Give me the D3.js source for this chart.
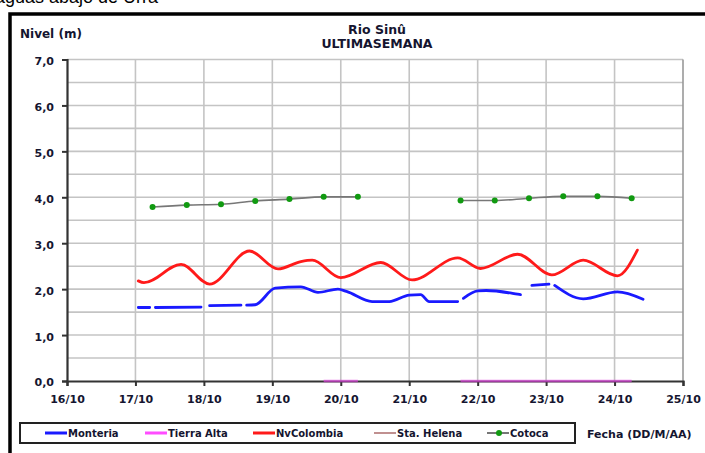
<!DOCTYPE html>
<html><head><meta charset="utf-8">
<script src="https://cdn.jsdelivr.net/npm/d3@7/dist/d3.min.js"></script>
<style>body{margin:0;background:#fff}svg{display:block}text{font-family:"DejaVu Sans",sans-serif;font-weight:bold;fill:#151530}</style>
</head><body>
<script>
// ---- data ----
const xTickLabels = ["16/10","17/10","18/10","19/10","20/10","21/10","22/10","23/10","24/10","25/10"];
const yTicks = [0,1,2,3,4,5,6,7];
const yGrid = [0.5,1,1.5,2,2.5,3,3.5,4,4.5,5,5.5,6,6.5,7];

const monteriaTimes = ["17/10 01:00","17/10 05:00","17/10 06:00","17/10 07:00","17/10 23:00","18/10 00:00","18/10 02:00","18/10 13:00","18/10 14:00","18/10 15:00","18/10 18:00","19/10 01:00","19/10 10:00","19/10 16:00","19/10 23:00","20/10 02:00","20/10 11:00","20/10 17:00","21/10 00:00","21/10 04:00","21/10 07:00","21/10 17:00","21/10 18:00","21/10 19:00","22/10 00:00","22/10 03:00","22/10 14:00","22/10 15:00","22/10 17:00","22/10 19:00","23/10 01:00","23/10 02:00","23/10 03:00","23/10 13:00","24/10 01:00","24/10 10:00"];
const monteriaValues = [1.60,1.60,null,1.60,1.61,null,1.64,1.65,null,1.65,1.66,2.02,2.05,1.93,2.00,1.95,1.73,1.73,1.87,1.88,1.73,1.73,null,1.80,1.96,1.97,1.89,1.88,null,2.08,2.11,null,2.08,1.79,1.94,1.78];

const nvColombiaTimes = ["17/10 01:00","17/10 03:00","17/10 16:00","18/10 02:00","18/10 16:00","19/10 02:00","19/10 10:00","19/10 14:00","20/10 00:00","20/10 14:00","21/10 01:00","21/10 17:00","22/10 01:00","22/10 14:00","23/10 02:00","23/10 13:00","24/10 01:00","24/10 08:00"];
const nvColombiaValues = [2.18,2.14,2.54,2.11,2.83,2.44,2.60,2.63,2.25,2.58,2.20,2.68,2.45,2.76,2.31,2.63,2.29,2.85];

const dailyTimes = ["17/10 06:00","17/10 18:00","18/10 06:00","18/10 18:00","19/10 06:00","19/10 18:00","20/10 06:00","20/10 18:00","21/10 06:00","21/10 18:00","22/10 06:00","22/10 18:00","23/10 06:00","23/10 18:00","24/10 06:00"];
const cotocaValues = [3.79,3.83,3.85,3.92,3.96,4.01,4.01,null,null,3.93,3.93,3.98,4.02,4.02,3.98];
const tierraAltaValues = [null,null,null,null,null,0,0,null,null,0,0,0,0,0,0];
const staHelenaValues = [];

const legendNames = ["Monteria","Tierra Alta","NvColombia","Sta. Helena","Cotoca"];
const legendColors = ["#1a1aff","#ff4dff","#ff1a1a","#c09090","#777777"];

// ---- chart ----
const W = 705, H = 453;
const parse = d3.timeParse("%d/%m %H:%M");
const svg = d3.select("body").append("svg").attr("width", W).attr("height", H);

const x = d3.scaleTime().domain([parse("16/10 00:00"), parse("25/10 00:00")]).range([67, 683]);
const y = d3.scaleLinear().domain([0, 7]).range([381, 59.5]);

// cropped heading text above the frame
svg.append("text").attr("x", 158).attr("y", 3).attr("text-anchor", "end")
  .style("font-family", "Liberation Sans, Arial, sans-serif").style("font-weight", "normal")
  .style("font-size", "18px").style("fill", "#000").text("aguas abajo de Urrá");

// outer frame
svg.append("rect").attr("x", 10).attr("y", 14).attr("width", 730).attr("height", 470)
  .attr("fill", "none").attr("stroke", "#000").attr("stroke-width", 3.5);

// grid
const g = svg.append("g");
g.selectAll("line.hg").data(yGrid).join("line")
  .attr("x1", x.range()[0]).attr("x2", x.range()[1])
  .attr("y1", d => y(d)).attr("y2", d => y(d))
  .attr("stroke", "#c4c4c4").attr("stroke-width", 1.6);
const dayDates = xTickLabels.map(s => parse(s + " 00:00"));
g.selectAll("line.vg").data(dayDates.slice(1)).join("line")
  .attr("x1", d => x(d)).attr("x2", d => x(d))
  .attr("y1", y(7)).attr("y2", y(0))
  .attr("stroke", d => +d === +dayDates[dayDates.length-1] ? "#999" : "#c4c4c4").attr("stroke-width", 1.6);

// axes
const loc = d3.formatLocale({decimal: ",", thousands: ".", grouping: [3], currency: ["", ""]});
const yAxis = svg.append("g").attr("transform", `translate(${x.range()[0]},0)`)
  .call(d3.axisLeft(y).tickValues(yTicks).tickFormat(loc.format(".1f")).tickSize(5).tickPadding(8));
yAxis.select(".domain").attr("stroke", "#333").attr("stroke-width", 2.2);
yAxis.selectAll(".tick line").attr("stroke", "#333").attr("stroke-width", 2);
yAxis.selectAll(".tick text").style("font-size", "11px").style("font-family", "DejaVu Sans").attr("dy", "0.45em").attr("fill", "#151530");

const xAxis = svg.append("g").attr("transform", `translate(0,${y(0)})`)
  .call(d3.axisBottom(x).tickValues(dayDates).tickFormat((d, i) => xTickLabels[i]).tickSize(5).tickPadding(9));
xAxis.select(".domain").attr("stroke", "#333").attr("stroke-width", 2.2);
xAxis.selectAll(".tick line").attr("stroke", "#333").attr("stroke-width", 2);
xAxis.selectAll(".tick text").style("font-size", "11px").style("font-family", "DejaVu Sans").attr("fill", "#151530");

// series
function pts(times, vals) { return times.map((t, i) => ({t: parse(t), v: vals[i]})); }
const line = d3.line().defined(d => d.v != null).x(d => x(d.t)).y(d => y(d.v)).curve(d3.curveMonotoneX);

svg.append("path").datum(pts(dailyTimes, tierraAltaValues)).attr("d", line)
  .attr("fill", "none").attr("stroke", "#e040e0").attr("stroke-opacity", 0.65).attr("stroke-width", 2.5);
svg.append("path").datum(pts(nvColombiaTimes, nvColombiaValues)).attr("d", line)
  .attr("fill", "none").attr("stroke", legendColors[2]).attr("stroke-width", 2.8).attr("stroke-linecap", "round");
svg.append("path").datum(pts(monteriaTimes, monteriaValues)).attr("d", line)
  .attr("fill", "none").attr("stroke", legendColors[0]).attr("stroke-width", 2.8).attr("stroke-linecap", "round");
const cot = pts(dailyTimes, cotocaValues);
svg.append("path").datum(cot).attr("d", line)
  .attr("fill", "none").attr("stroke", legendColors[4]).attr("stroke-width", 1.6);
svg.selectAll("circle.cot").data(cot.filter(d => d.v != null)).join("circle")
  .attr("cx", d => x(d.t)).attr("cy", d => y(d.v)).attr("r", 3).attr("fill", "#119a11");

// titles
svg.append("text").attr("x", 377).attr("y", 34).attr("text-anchor", "middle").style("font-size", "12.5px").text("Rio Sinû");
svg.append("text").attr("x", 377).attr("y", 48).attr("text-anchor", "middle").style("font-size", "12.5px").text("ULTIMASEMANA");
svg.append("text").attr("x", 20).attr("y", 38).style("font-size", "12px").text("Nivel (m)");

// legend
svg.append("rect").attr("x", 20).attr("y", 423).attr("width", 555).attr("height", 20)
  .attr("fill", "#fff").attr("stroke", "#222").attr("stroke-width", 2);
const legX = [45, 145, 253, 374, 487];
legendNames.forEach((n, i) => {
  const lg = svg.append("g").attr("transform", `translate(${legX[i]},433)`);
  lg.append("line").attr("x1", 0).attr("x2", 22).attr("y1", 0).attr("y2", 0)
    .attr("stroke", legendColors[i]).attr("stroke-width", i === 3 || i === 4 ? 2 : 3);
  if (i === 4) lg.append("circle").attr("cx", 12).attr("cy", 0).attr("r", 3).attr("fill", "#119a11");
  lg.append("text").attr("x", 23).attr("y", 0).attr("dy", "0.35em").style("font-size", "10px").text(n);
});
svg.append("text").attr("x", 587).attr("y", 438).style("font-size", "11px").text("Fecha (DD/M/AA)");
</script>
</body></html>
